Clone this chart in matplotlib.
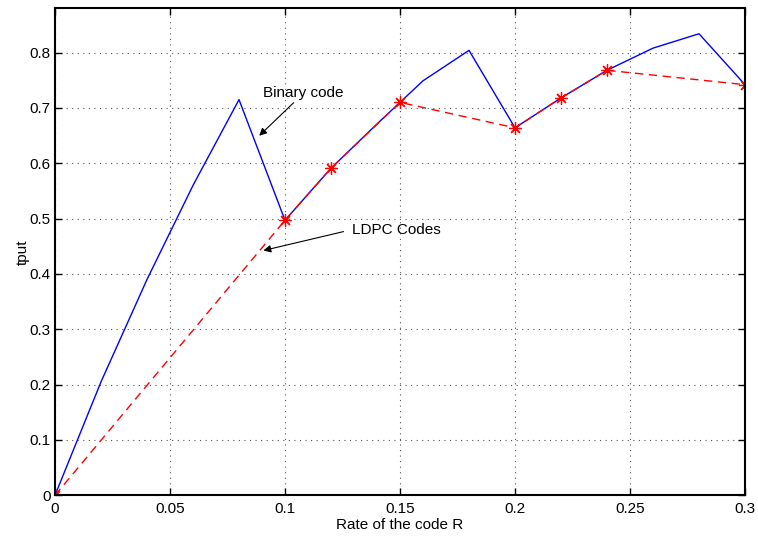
import matplotlib
matplotlib.use('Agg')
import matplotlib.pyplot as plt

plt.rcParams['font.family'] = ['Liberation Sans', 'DejaVu Sans']

# binary code throughput vs rate
rate_binary = [0, 0.02, 0.04, 0.06, 0.08, 0.10, 0.12, 0.14, 0.16, 0.18,
               0.20, 0.22, 0.24, 0.26, 0.28, 0.30]
tput_binary = [0, 0.205, 0.39, 0.56, 0.715, 0.497, 0.591, 0.671, 0.749, 0.804,
               0.664, 0.718, 0.768, 0.808, 0.834, 0.742]

# LDPC codes
rate_ldpc = [0, 0.10, 0.12, 0.15, 0.20, 0.22, 0.24, 0.30]
tput_ldpc = [0, 0.497, 0.591, 0.710, 0.664, 0.718, 0.768, 0.742]

xticks = [0, 0.05, 0.1, 0.15, 0.2, 0.25, 0.3]
xticklabels = ['0', '0.05', '0.1', '0.15', '0.2', '0.25', '0.3']
yticks = [0, 0.1, 0.2, 0.3, 0.4, 0.5, 0.6, 0.7, 0.8]
yticklabels = ['0', '0.1', '0.2', '0.3', '0.4', '0.5', '0.6', '0.7', '0.8']

fig = plt.figure(figsize=(7.58, 5.36), dpi=100)
ax = fig.add_axes([55 / 758, 1 - 495.3 / 536, 690 / 758, 487 / 536])

ax.plot(rate_binary, tput_binary, color='#0000ff', linewidth=1.0)
# matlab style asterisk marker (+ and x together)
ax.plot(rate_ldpc, tput_ldpc, color='#ff0000', linewidth=1.0,
        linestyle=(0, (6, 4)), marker=(8, 2, 0), markersize=9,
        markeredgewidth=0.9)

ax.set_xlim(0, 0.3)
ax.set_ylim(0, 0.88)
ax.set_xticks(xticks)
ax.set_xticklabels(xticklabels)
ax.set_yticks(yticks)
ax.set_yticklabels(yticklabels)
ax.tick_params(direction='in', top=True, right=True, labelsize=11,
               length=5, width=1.0, pad=3)
ax.tick_params(axis='x', pad=5)
ax.grid(True, linestyle=(0, (1, 4)), color='#555555', linewidth=0.8)
for sp in ax.spines.values():
    sp.set_linewidth(1.5)

ax.set_xlabel('Rate of the code R', fontsize=11, labelpad=1)
ax.set_ylabel('tput', fontsize=11, labelpad=0)

ax.annotate('Binary code', xy=(0.0888, 0.6497), xytext=(0.0903, 0.727),
            fontsize=11, va='center', ha='left',
            arrowprops=dict(arrowstyle='-|>', color='black', lw=0.8,
                            shrinkA=0, shrinkB=0,
                            relpos=(0.42, 0.0)))
ax.annotate('LDPC Codes', xy=(0.0906, 0.4423), xytext=(0.129, 0.480),
            fontsize=11, va='center', ha='left',
            arrowprops=dict(arrowstyle='-|>', color='black', lw=0.8,
                            shrinkA=4, shrinkB=0,
                            relpos=(0.0, 0.5)))

fig.savefig('out.png', dpi=100)
